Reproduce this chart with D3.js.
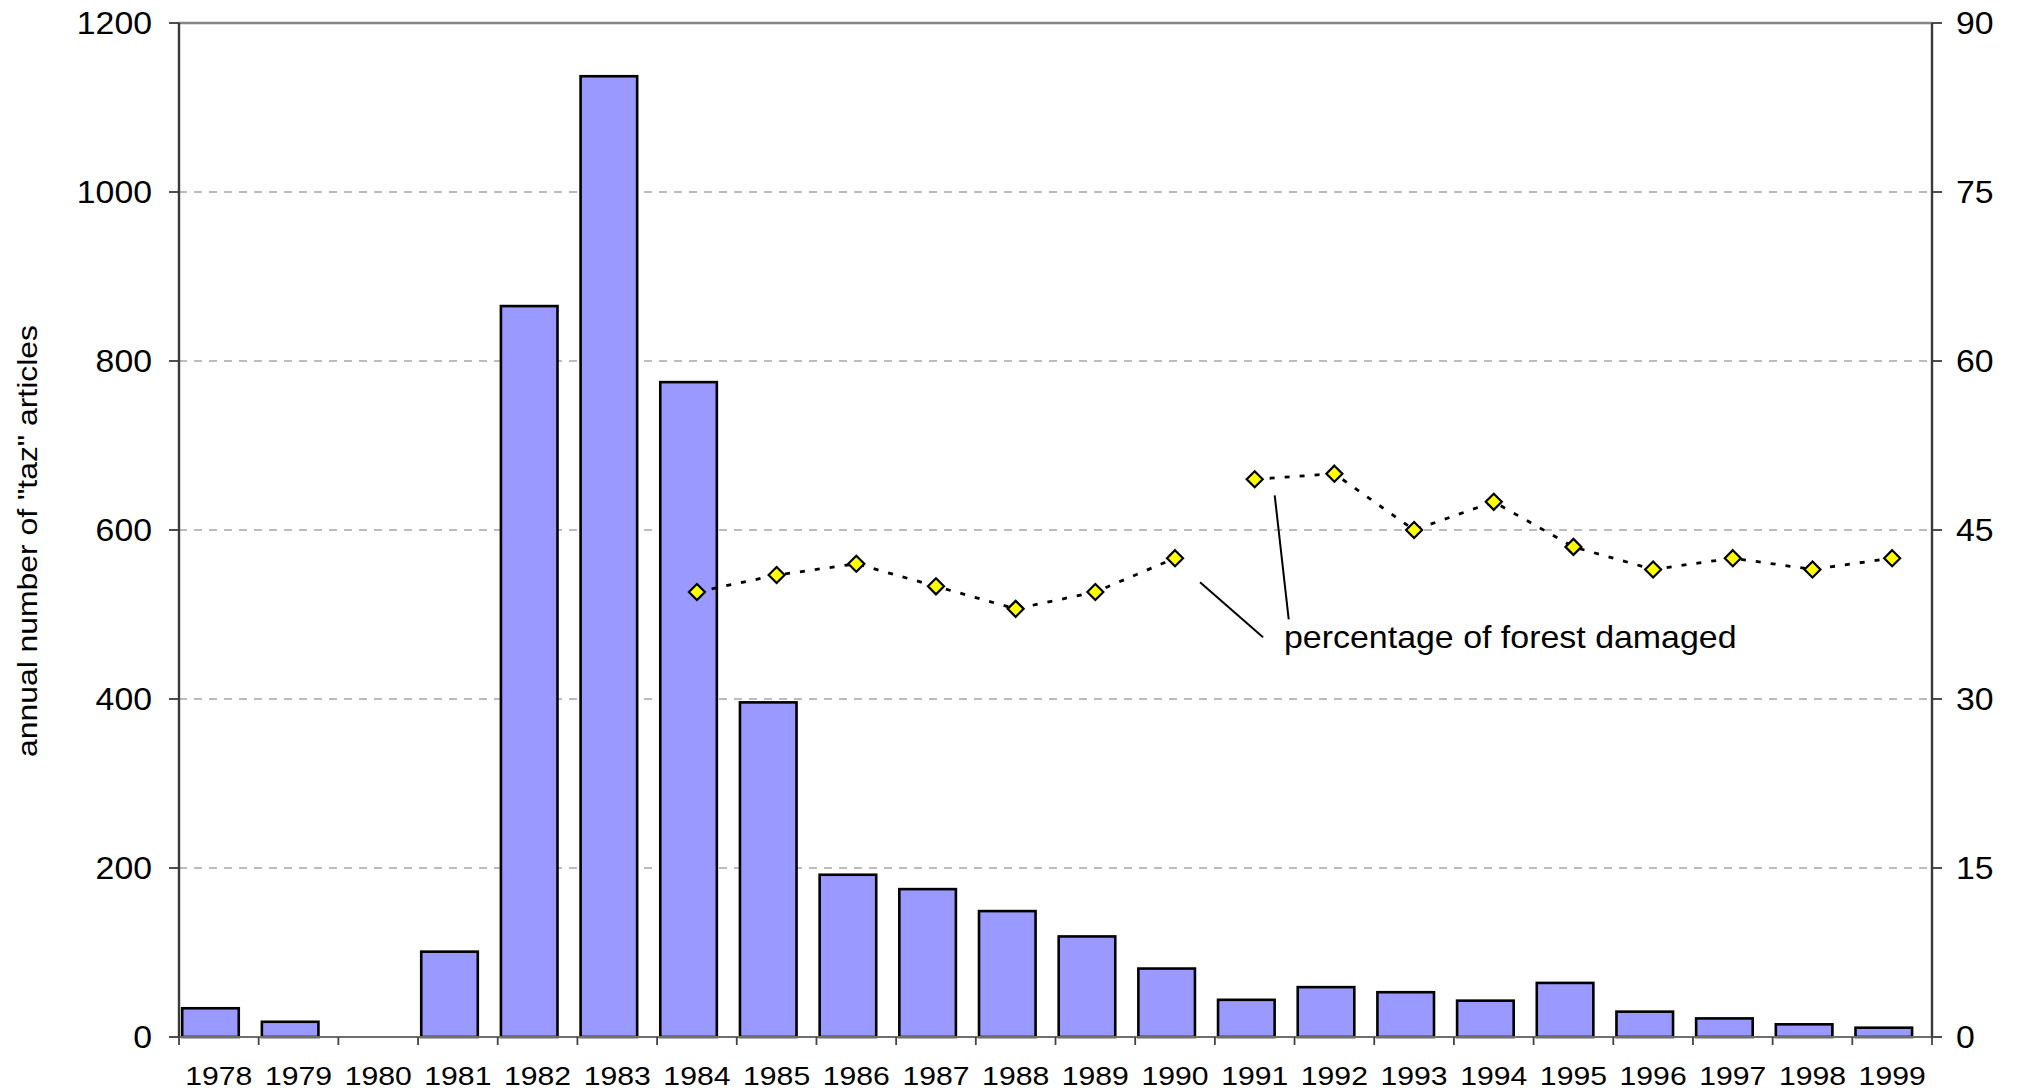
<!DOCTYPE html>
<html>
<head>
<meta charset="utf-8">
<script src="https://cdn.jsdelivr.net/npm/d3@7/dist/d3.min.js"></script>
<style>
  html, body { margin: 0; padding: 0; background: #fff; }
  svg { display: block; }
  text { font-family: "Liberation Sans", Arial, sans-serif; fill: #000; }
</style>
</head>
<body>
<svg id="chart" width="2018" height="1090"></svg>
<script>
// ---------------- data ----------------
const years = [1978, 1979, 1980, 1981, 1982, 1983, 1984, 1985, 1986, 1987, 1988,
               1989, 1990, 1991, 1992, 1993, 1994, 1995, 1996, 1997, 1998, 1999];
const articles = [34, 18, 0, 101, 865, 1137, 775, 396, 192, 175, 149,
                  119, 81, 44, 59, 53, 43, 64, 30, 22, 15, 11];
const damageYears = [1984, 1985, 1986, 1987, 1988, 1989, 1990,
                     1991, 1992, 1993, 1994, 1995, 1996, 1997, 1998, 1999];
const damagePct = [39.5, 41.0, 42.0, 40.0, 38.0, 39.5, 42.5,
                   49.5, 50.0, 45.0, 47.5, 43.5, 41.5, 42.5, 41.5, 42.5];
const seriesBreakAfter = 1990;   // the damage series is interrupted here
const leftTicks = [0, 200, 400, 600, 800, 1000, 1200];
const rightTicks = [0, 15, 30, 45, 60, 75, 90];
const yTitle = 'annual number of "taz" articles';
const lineLabel = "percentage of forest damaged";

// ---------------- layout ----------------
const L = 179, R = 1932, T = 23, B = 1037;
const svg = d3.select("#chart");

const x = d3.scaleBand().domain(years).range([L, R]).paddingInner(0).paddingOuter(0);
const yL = d3.scaleLinear().domain([0, 1200]).range([B, T]);
const yR = d3.scaleLinear().domain([0, 90]).range([B, T]);
const bw = x.bandwidth();

// widen text to match reference glyph proportions
function widen(sel, k) {
  sel.each(function () {
    const len = this.getComputedTextLength();
    d3.select(this).attr("textLength", len * k).attr("lengthAdjust", "spacingAndGlyphs");
  });
}

// gridlines
svg.append("g").selectAll("line")
  .data(leftTicks.filter(d => d > 0 && d < 1200))
  .join("line")
  .attr("x1", L).attr("x2", R)
  .attr("y1", d => yL(d)).attr("y2", d => yL(d))
  .attr("stroke", "#a6a6a6").attr("stroke-width", 1.5)
  .attr("stroke-dasharray", "8,7");

// top frame line
svg.append("line").attr("x1", L).attr("x2", R).attr("y1", T).attr("y2", T)
  .attr("stroke", "#858585").attr("stroke-width", 2.5);

// bars
svg.append("g").selectAll("rect")
  .data(years.map((y, i) => ({ year: y, v: articles[i] })).filter(d => d.v > 0))
  .join("rect")
  .attr("x", d => x(d.year) + bw * 0.04)
  .attr("width", bw * 0.71)
  .attr("y", d => yL(d.v))
  .attr("height", d => yL(0) - yL(d.v))
  .attr("fill", "#9999ff")
  .attr("stroke", "#000").attr("stroke-width", 2.6);

// x axis
svg.append("line").attr("x1", L).attr("x2", R).attr("y1", B).attr("y2", B)
  .attr("stroke", "#6e6e6e").attr("stroke-width", 2);
const xTickPos = years.map(y => x(y)).concat([R]);
svg.append("g").selectAll("line").data(xTickPos).join("line")
  .attr("x1", d => d).attr("x2", d => d).attr("y1", B).attr("y2", B + 8)
  .attr("stroke", "#444").attr("stroke-width", 1.8);
const xl = svg.append("g").selectAll("text").data(years).join("text")
  .attr("x", d => x(d) + bw / 2).attr("y", 1085)
  .attr("text-anchor", "middle").attr("font-size", 26)
  .text(d => d);
widen(xl, 1.16);

// left axis
svg.append("line").attr("x1", L).attr("x2", L).attr("y1", T).attr("y2", B)
  .attr("stroke", "#3a3a3a").attr("stroke-width", 2.4);
svg.append("g").selectAll("line").data(leftTicks).join("line")
  .attr("x1", L - 10).attr("x2", L).attr("y1", d => yL(d)).attr("y2", d => yL(d))
  .attr("stroke", "#3a3a3a").attr("stroke-width", 1.8);
const yl = svg.append("g").selectAll("text").data(leftTicks).join("text")
  .attr("x", 152).attr("y", d => yL(d) + 11)
  .attr("text-anchor", "end").attr("font-size", 31)
  .text(d => d);
widen(yl, 1.09);

// right axis
svg.append("line").attr("x1", R).attr("x2", R).attr("y1", T).attr("y2", B)
  .attr("stroke", "#3a3a3a").attr("stroke-width", 2.4);
svg.append("g").selectAll("line").data(rightTicks).join("line")
  .attr("x1", R).attr("x2", R + 10).attr("y1", d => yR(d)).attr("y2", d => yR(d))
  .attr("stroke", "#3a3a3a").attr("stroke-width", 1.8);
const yr = svg.append("g").selectAll("text").data(rightTicks).join("text")
  .attr("x", 1956).attr("y", d => yR(d) + 11)
  .attr("text-anchor", "start").attr("font-size", 31)
  .text(d => d);
widen(yr, 1.09);

// y title
svg.append("text")
  .attr("transform", `translate(37,541) rotate(-90)`)
  .attr("text-anchor", "middle").attr("font-size", 28)
  .attr("textLength", 432).attr("lengthAdjust", "spacingAndGlyphs")
  .text(yTitle);

// damage line (two segments)
const pts = damageYears.map((y, i) => ({ year: y, v: damagePct[i] }));
const segs = [pts.filter(d => d.year <= seriesBreakAfter), pts.filter(d => d.year > seriesBreakAfter)];
const line = d3.line().x(d => x(d.year) + bw / 2).y(d => yR(d.v));
svg.append("g").selectAll("path").data(segs).join("path")
  .attr("d", line).attr("fill", "none")
  .attr("stroke", "#000").attr("stroke-width", 2.8)
  .attr("stroke-dasharray", "5,10");

// diamonds
const s = 8;
svg.append("g").selectAll("path").data(pts).join("path")
  .attr("transform", d => `translate(${x(d.year) + bw / 2},${yR(d.v)})`)
  .attr("d", `M0,${-s}L${s},0L0,${s}L${-s},0Z`)
  .attr("fill", "#ffff00").attr("stroke", "#000").attr("stroke-width", 2.2);

// annotation leader lines & label
const p90 = pts.find(d => d.year === 1990), p91 = pts.find(d => d.year === 1991);
const cx = d => x(d.year) + bw / 2;
svg.append("line")
  .attr("x1", cx(p90) + 25).attr("y1", yR(p90.v) + 24)
  .attr("x2", cx(p90) + 88).attr("y2", yR(p90.v) + 79)
  .attr("stroke", "#000").attr("stroke-width", 2);
svg.append("line")
  .attr("x1", cx(p91) + 20).attr("y1", yR(p91.v) + 16)
  .attr("x2", cx(p91) + 34).attr("y2", yR(p91.v) + 140)
  .attr("stroke", "#000").attr("stroke-width", 2);
const al = svg.append("text").attr("x", 1284).attr("y", 648)
  .attr("font-size", 32).text(lineLabel);
widen(al, 1.06);
</script>
</body>
</html>
